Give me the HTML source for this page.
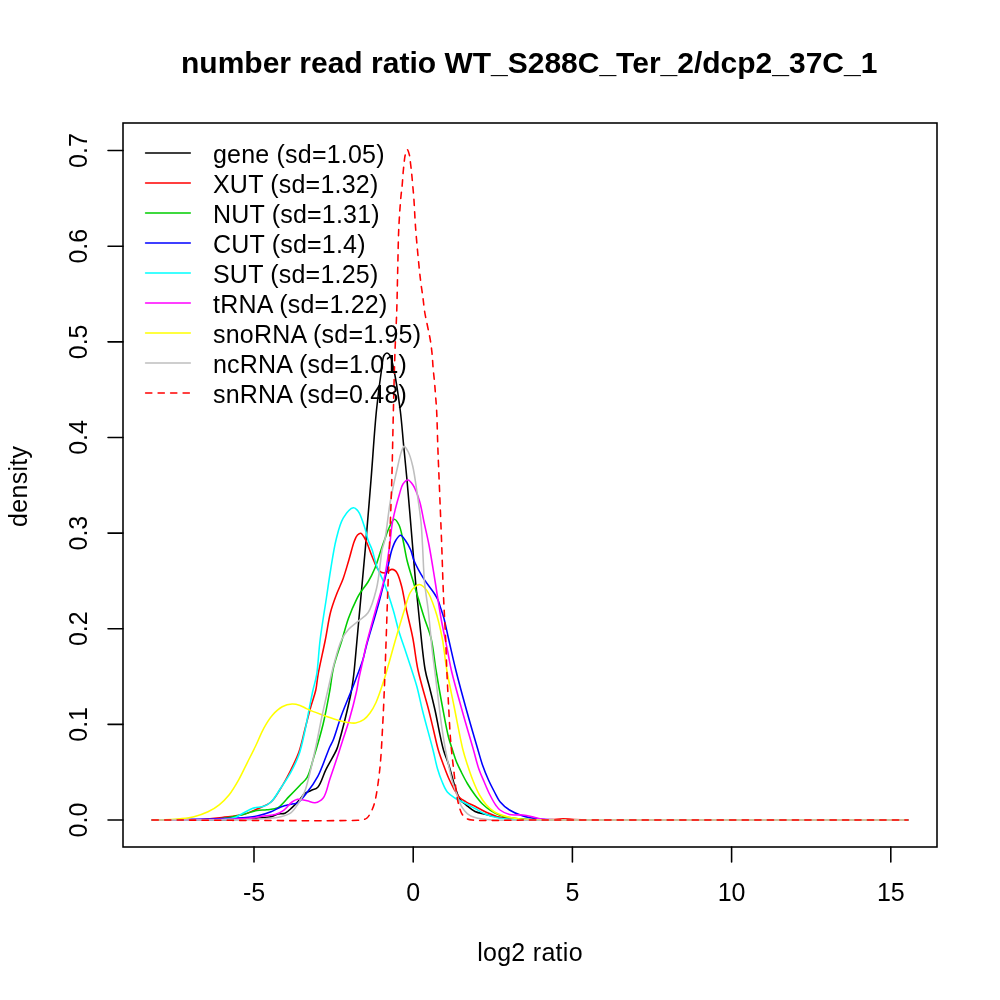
<!DOCTYPE html>
<html><head><meta charset="utf-8"><style>
html,body{margin:0;padding:0;background:#fff;width:1000px;height:1000px;overflow:hidden}
svg{display:block;will-change:transform}
text{font-family:"Liberation Sans",sans-serif;fill:#000}
</style></head><body>
<svg width="1000" height="1000" viewBox="0 0 1000 1000">
<rect x="0" y="0" width="1000" height="1000" fill="#fff"/>
<text x="529.2" y="72.5" font-size="30" font-weight="bold" text-anchor="middle">number read ratio WT_S288C_Ter_2/dcp2_37C_1</text>
<rect x="123" y="123" width="814" height="724" fill="none" stroke="#000" stroke-width="1.56"/>
<line x1="254.00" y1="847" x2="254.00" y2="862" stroke="#000" stroke-width="1.56" stroke-linecap="round"/>
<text x="254.00" y="901" font-size="25" text-anchor="middle">-5</text>
<line x1="413.20" y1="847" x2="413.20" y2="862" stroke="#000" stroke-width="1.56" stroke-linecap="round"/>
<text x="413.20" y="901" font-size="25" text-anchor="middle">0</text>
<line x1="572.40" y1="847" x2="572.40" y2="862" stroke="#000" stroke-width="1.56" stroke-linecap="round"/>
<text x="572.40" y="901" font-size="25" text-anchor="middle">5</text>
<line x1="731.60" y1="847" x2="731.60" y2="862" stroke="#000" stroke-width="1.56" stroke-linecap="round"/>
<text x="731.60" y="901" font-size="25" text-anchor="middle">10</text>
<line x1="890.80" y1="847" x2="890.80" y2="862" stroke="#000" stroke-width="1.56" stroke-linecap="round"/>
<text x="890.80" y="901" font-size="25" text-anchor="middle">15</text>
<line x1="108" y1="820.00" x2="123" y2="820.00" stroke="#000" stroke-width="1.56" stroke-linecap="round"/>
<text transform="translate(87,820.00) rotate(-90)" font-size="25" text-anchor="middle">0.0</text>
<line x1="108" y1="724.37" x2="123" y2="724.37" stroke="#000" stroke-width="1.56" stroke-linecap="round"/>
<text transform="translate(87,724.37) rotate(-90)" font-size="25" text-anchor="middle">0.1</text>
<line x1="108" y1="628.74" x2="123" y2="628.74" stroke="#000" stroke-width="1.56" stroke-linecap="round"/>
<text transform="translate(87,628.74) rotate(-90)" font-size="25" text-anchor="middle">0.2</text>
<line x1="108" y1="533.11" x2="123" y2="533.11" stroke="#000" stroke-width="1.56" stroke-linecap="round"/>
<text transform="translate(87,533.11) rotate(-90)" font-size="25" text-anchor="middle">0.3</text>
<line x1="108" y1="437.48" x2="123" y2="437.48" stroke="#000" stroke-width="1.56" stroke-linecap="round"/>
<text transform="translate(87,437.48) rotate(-90)" font-size="25" text-anchor="middle">0.4</text>
<line x1="108" y1="341.85" x2="123" y2="341.85" stroke="#000" stroke-width="1.56" stroke-linecap="round"/>
<text transform="translate(87,341.85) rotate(-90)" font-size="25" text-anchor="middle">0.5</text>
<line x1="108" y1="246.22" x2="123" y2="246.22" stroke="#000" stroke-width="1.56" stroke-linecap="round"/>
<text transform="translate(87,246.22) rotate(-90)" font-size="25" text-anchor="middle">0.6</text>
<line x1="108" y1="150.59" x2="123" y2="150.59" stroke="#000" stroke-width="1.56" stroke-linecap="round"/>
<text transform="translate(87,150.59) rotate(-90)" font-size="25" text-anchor="middle">0.7</text>
<text x="530" y="961" font-size="25" letter-spacing="0.28" text-anchor="middle">log2 ratio</text>
<text transform="translate(27,486.3) rotate(-90)" font-size="25" letter-spacing="0.3" text-anchor="middle">density</text>
<path d="M152.20,820.00 C178.13,819.93 210.78,820.43 230.00,819.80 C241.33,819.43 249.47,818.71 257.00,818.10 C262.43,817.66 267.19,817.63 271.00,816.70 C273.79,816.02 275.62,814.48 278.00,813.90 C280.29,813.34 282.79,814.10 285.00,813.20 C287.49,812.18 289.66,809.74 292.00,807.60 C294.66,805.16 297.78,801.72 300.00,799.20 C301.70,797.27 302.53,795.33 304.30,793.90 C306.16,792.40 308.75,791.62 311.00,790.50 C313.25,789.38 315.76,789.29 317.80,787.20 C321.07,783.86 322.91,775.62 325.90,769.60 C329.15,763.05 334.38,754.95 336.70,749.40 C338.22,745.76 338.47,743.98 339.60,740.00 C341.53,733.17 344.76,720.57 346.80,712.00 C348.52,704.79 350.02,698.42 351.20,692.00 C352.28,686.12 353.02,680.50 353.70,675.00 C354.34,669.85 354.69,665.36 355.20,660.00 C355.79,653.81 356.28,647.96 357.00,640.00 C358.07,628.19 359.65,610.83 361.00,596.00 C362.38,580.84 363.72,566.94 365.20,550.00 C367.02,529.11 369.12,503.34 371.00,480.00 C372.88,456.67 374.46,430.07 376.50,410.00 C378.05,394.79 380.01,380.01 381.50,370.00 C382.40,363.95 382.44,358.21 384.00,355.50 C384.81,354.10 386.00,353.00 387.00,353.00 C388.00,353.00 389.13,354.15 390.00,355.50 C391.59,357.96 392.31,362.56 393.50,368.00 C395.66,377.84 398.48,396.61 400.20,410.00 C401.76,422.17 402.47,433.33 403.60,445.00 C404.73,456.67 405.78,466.54 407.00,480.00 C408.67,498.34 410.93,526.37 412.50,545.00 C413.68,559.06 414.43,569.28 415.60,582.00 C416.85,595.56 418.24,609.69 419.80,624.00 C421.43,638.99 423.05,658.25 425.20,670.00 C426.56,677.44 428.15,681.66 429.70,688.00 C431.43,695.08 433.45,702.98 435.10,710.50 C436.75,717.98 438.10,726.03 439.60,733.00 C440.90,739.07 441.92,744.55 443.50,750.00 C445.01,755.20 447.06,759.55 448.80,765.00 C450.84,771.38 452.73,779.81 454.80,786.00 C456.49,791.04 457.72,796.22 460.00,799.50 C461.70,801.94 463.76,802.98 466.00,804.80 C468.66,806.96 471.66,809.89 475.00,811.50 C478.41,813.15 482.34,813.54 486.30,814.50 C490.64,815.55 495.31,816.75 500.00,817.50 C504.86,818.27 509.36,818.63 515.00,819.00 C522.27,819.48 529.87,819.62 540.00,819.80 C555.69,820.08 572.25,819.95 600.00,820.00 C662.85,820.10 805.20,820.00 907.80,820.00" fill="none" stroke="#000000" stroke-width="1.56" stroke-linecap="round" stroke-linejoin="round"/>
<path d="M152.20,820.00 C168.13,819.90 187.13,820.41 200.00,819.70 C208.75,819.22 214.76,818.26 222.00,817.40 C229.09,816.56 236.80,816.23 243.00,814.60 C248.23,813.23 252.38,811.08 257.00,809.00 C261.71,806.88 267.16,805.27 271.00,802.00 C274.81,798.76 277.00,794.23 280.00,789.50 C283.60,783.81 287.58,776.44 290.80,770.00 C293.83,763.94 296.60,758.47 298.90,752.00 C301.42,744.90 302.98,736.67 305.00,729.00 C307.02,721.34 309.05,712.96 311.00,706.00 C312.63,700.17 314.63,695.29 315.80,690.00 C316.92,684.96 316.93,681.02 318.00,675.00 C319.64,665.75 323.11,651.03 325.30,640.00 C327.26,630.16 328.50,620.09 330.60,612.00 C332.26,605.63 334.12,600.76 336.20,595.20 C338.31,589.56 341.12,584.16 343.20,578.40 C345.33,572.50 346.96,566.35 348.80,560.20 C350.69,553.89 352.59,545.53 354.40,541.00 C355.45,538.37 356.20,536.31 357.50,535.00 C358.48,534.01 359.87,532.99 360.90,533.20 C362.06,533.44 363.05,535.53 364.00,537.00 C365.11,538.72 365.93,540.56 367.00,543.00 C368.58,546.62 370.20,552.23 372.20,556.80 C374.26,561.50 376.44,568.32 379.20,570.80 C380.90,572.33 383.14,573.00 384.80,572.90 C386.18,572.82 387.30,571.60 388.50,571.00 C389.63,570.44 390.69,569.47 391.80,569.40 C392.86,569.34 394.09,569.85 395.00,570.50 C395.98,571.20 396.61,572.13 397.40,573.60 C398.85,576.31 400.33,581.42 401.60,586.20 C403.21,592.27 404.16,599.54 405.80,607.20 C407.79,616.50 410.78,627.60 412.80,638.00 C414.85,648.53 415.60,658.77 418.00,670.00 C420.73,682.77 425.99,699.43 428.80,710.50 C430.74,718.16 431.93,723.46 433.50,730.00 C435.09,736.62 436.50,743.85 438.30,750.00 C439.88,755.40 441.71,760.15 443.50,765.00 C445.21,769.64 446.95,774.32 448.80,778.50 C450.46,782.26 452.17,785.75 454.00,789.00 C455.68,791.98 457.17,795.12 459.30,797.30 C461.23,799.28 463.55,800.37 466.00,801.80 C468.73,803.39 471.84,804.67 475.00,806.30 C478.56,808.14 482.29,810.48 486.30,812.30 C490.59,814.24 495.25,816.35 500.00,817.50 C504.82,818.67 509.36,818.81 515.00,819.20 C522.27,819.70 533.18,819.77 540.00,819.80 C544.73,819.82 548.09,819.79 552.00,819.60 C555.75,819.42 559.33,818.70 563.00,818.70 C566.67,818.70 569.55,819.38 574.00,819.60 C580.83,819.93 586.57,819.90 600.00,820.00 C646.21,820.36 805.20,820.00 907.80,820.00" fill="none" stroke="#FF0000" stroke-width="1.56" stroke-linecap="round" stroke-linejoin="round"/>
<path d="M152.20,820.00 C171.47,819.87 195.97,820.46 210.00,819.60 C218.07,819.11 223.17,818.32 229.00,817.40 C234.04,816.61 238.36,815.76 243.00,814.60 C247.69,813.43 252.71,811.19 257.00,810.40 C260.52,809.75 263.44,810.13 266.80,809.70 C270.42,809.23 274.53,809.43 278.00,807.60 C282.09,805.44 285.52,800.15 289.20,796.40 C292.85,792.68 296.80,788.57 300.00,785.20 C302.60,782.46 304.99,781.09 307.00,777.70 C309.90,772.82 311.37,765.13 313.70,757.50 C316.70,747.71 320.49,735.01 323.20,723.70 C325.88,712.51 328.10,700.06 329.90,690.00 C331.35,681.90 331.61,675.71 333.40,668.00 C335.45,659.16 339.36,648.73 342.00,640.00 C344.31,632.34 345.89,625.35 348.40,618.40 C350.84,611.63 354.56,603.34 356.80,598.80 C358.04,596.29 358.62,595.27 360.00,593.10 C362.00,589.96 365.57,586.02 368.00,582.00 C370.60,577.70 372.91,573.04 375.00,568.00 C377.30,562.45 379.25,555.12 381.00,550.00 C382.31,546.17 383.24,543.48 384.50,540.00 C385.89,536.17 387.25,531.62 389.00,528.00 C390.57,524.76 392.49,519.33 394.30,519.20 C395.84,519.09 397.70,522.44 399.00,525.00 C400.88,528.69 401.73,534.56 403.00,540.00 C404.49,546.39 405.43,553.82 407.20,561.00 C409.10,568.73 411.65,576.27 414.20,584.80 C417.17,594.73 420.95,607.43 424.00,617.00 C426.47,624.76 429.10,630.18 431.00,638.00 C433.30,647.46 434.18,659.03 436.00,670.00 C437.93,681.66 440.13,694.41 442.30,706.00 C444.34,716.86 446.54,729.43 448.60,737.50 C449.92,742.66 451.19,745.95 452.50,750.00 C453.74,753.85 454.77,757.54 456.25,761.25 C457.76,765.04 459.64,768.77 461.50,772.50 C463.39,776.28 465.29,780.05 467.50,783.75 C469.78,787.56 472.40,791.52 475.00,795.00 C477.42,798.24 479.86,801.42 482.50,804.00 C484.89,806.34 487.22,808.19 490.00,810.00 C493.01,811.97 496.63,813.99 500.00,815.25 C503.13,816.42 505.81,816.86 509.50,817.50 C514.53,818.37 519.47,819.03 527.50,819.50 C543.56,820.44 567.46,819.89 600.00,820.00 C667.05,820.23 805.20,820.00 907.80,820.00" fill="none" stroke="#00CD00" stroke-width="1.56" stroke-linecap="round" stroke-linejoin="round"/>
<path d="M152.20,820.00 C180.13,819.37 217.38,819.24 236.00,818.10 C245.34,817.53 250.76,817.24 257.00,816.00 C262.19,814.97 266.81,813.46 271.00,811.80 C274.63,810.36 277.35,808.18 280.80,806.90 C284.34,805.59 288.92,804.79 292.00,804.10 C294.15,803.62 295.60,804.07 297.50,803.00 C300.51,801.30 303.88,796.58 307.00,792.60 C310.67,787.92 314.40,782.81 317.80,776.40 C322.16,768.17 327.05,753.04 329.90,746.70 C331.28,743.64 331.98,742.98 333.20,740.00 C335.45,734.52 338.17,724.26 341.20,716.00 C344.50,706.98 349.84,694.51 352.40,688.00 C353.77,684.53 354.27,683.27 355.50,680.00 C357.44,674.84 360.88,666.23 362.80,660.00 C364.44,654.69 364.90,651.24 366.60,645.00 C369.45,634.51 375.17,616.39 378.80,603.00 C382.10,590.83 385.24,577.75 387.60,568.00 C389.29,561.02 390.16,555.07 391.80,550.00 C393.06,546.12 394.30,542.59 396.00,540.00 C397.32,537.99 398.99,535.31 400.50,535.30 C402.02,535.29 403.62,538.02 405.10,540.00 C407.06,542.61 409.18,546.51 410.70,550.00 C412.22,553.51 412.49,556.96 414.20,561.00 C416.49,566.40 420.52,573.66 424.00,579.20 C427.16,584.23 431.49,589.12 434.00,593.00 C435.72,595.67 436.86,597.46 438.00,600.00 C439.23,602.76 440.04,606.09 441.00,609.00 C441.90,611.74 442.68,613.68 443.60,617.00 C445.07,622.32 446.62,630.27 448.40,638.00 C450.60,647.55 453.00,658.73 455.80,670.00 C458.97,682.73 462.88,697.10 466.60,710.50 C470.28,723.77 475.05,739.97 478.00,750.00 C479.82,756.19 480.77,760.04 482.50,765.00 C484.26,770.04 486.40,775.32 488.50,780.00 C490.42,784.27 492.50,788.23 494.50,792.00 C496.33,795.44 497.61,798.82 500.00,801.75 C502.54,804.86 505.86,807.68 509.50,810.00 C513.44,812.51 518.18,814.51 523.00,816.00 C528.14,817.58 533.68,818.36 539.50,819.00 C545.94,819.71 551.37,819.62 560.00,819.80 C574.75,820.11 592.54,819.95 620.00,820.00 C680.14,820.10 811.87,820.00 907.80,820.00" fill="none" stroke="#0000FF" stroke-width="1.56" stroke-linecap="round" stroke-linejoin="round"/>
<path d="M152.20,820.00 C174.80,819.87 206.18,820.42 220.00,819.60 C226.12,819.24 229.22,819.28 233.20,818.10 C236.81,817.03 239.73,814.83 243.00,813.20 C246.27,811.57 249.34,809.46 252.80,808.30 C256.33,807.11 260.80,807.42 264.00,806.20 C266.71,805.17 268.70,804.15 271.00,802.00 C274.33,798.90 277.59,792.81 280.80,788.00 C284.12,783.02 287.63,778.02 290.60,772.60 C293.68,766.98 296.59,761.31 298.90,754.80 C301.51,747.44 303.27,738.28 305.00,730.50 C306.58,723.40 307.66,716.79 309.00,710.00 C310.33,703.29 311.64,696.18 313.00,690.00 C314.18,684.63 315.57,681.09 316.60,675.00 C318.15,665.81 318.58,652.18 320.10,640.00 C321.77,626.62 324.51,610.59 326.40,598.00 C327.94,587.72 329.02,579.54 330.60,570.00 C332.26,559.97 333.84,548.41 336.20,539.20 C338.18,531.45 339.86,523.70 343.20,518.20 C345.91,513.75 350.47,508.09 353.30,507.80 C355.08,507.62 356.53,509.17 358.00,511.00 C360.72,514.39 363.47,523.68 365.20,529.00 C366.52,533.07 366.81,536.46 368.00,540.00 C369.16,543.46 370.91,546.27 372.20,550.00 C373.76,554.49 374.53,559.88 376.40,565.20 C378.57,571.39 382.14,577.80 384.80,584.80 C387.77,592.62 390.79,601.95 393.20,610.00 C395.38,617.28 396.71,624.03 398.80,631.00 C400.91,638.03 403.57,645.27 405.80,652.00 C407.86,658.23 409.81,664.08 411.70,670.00 C413.54,675.74 415.32,680.84 417.00,687.00 C418.95,694.17 420.29,701.67 422.50,710.50 C425.37,721.99 430.28,739.24 433.00,750.00 C434.87,757.39 435.84,763.14 437.50,768.75 C438.89,773.45 440.30,777.51 442.00,781.50 C443.59,785.22 445.01,789.18 447.30,792.00 C449.37,794.55 452.09,796.26 454.80,798.00 C457.58,799.78 460.65,800.87 463.80,802.50 C467.34,804.33 471.26,806.50 475.00,808.50 C478.76,810.50 482.26,812.89 486.30,814.50 C490.56,816.20 494.95,817.43 500.00,818.30 C505.99,819.33 512.18,819.40 520.00,819.70 C531.04,820.13 540.09,819.93 560.00,820.00 C618.72,820.22 791.87,820.00 907.80,820.00" fill="none" stroke="#00FFFF" stroke-width="1.56" stroke-linecap="round" stroke-linejoin="round"/>
<path d="M152.20,820.00 C184.80,819.43 232.13,819.91 250.00,818.30 C256.80,817.69 259.59,816.64 264.00,816.00 C267.94,815.43 271.81,815.63 275.20,814.60 C278.29,813.66 280.95,812.31 283.60,810.40 C286.58,808.25 289.34,803.90 292.00,802.00 C293.91,800.64 295.36,799.63 297.50,799.30 C300.18,798.88 303.97,800.10 307.00,800.70 C309.82,801.25 312.47,803.08 315.10,802.70 C317.88,802.30 320.98,800.68 323.20,798.00 C326.45,794.08 327.51,786.05 329.90,779.10 C332.83,770.61 337.05,757.91 339.40,750.70 C340.84,746.29 341.49,744.12 342.80,740.00 C344.60,734.37 347.11,727.26 349.20,720.00 C351.66,711.48 354.77,699.41 356.40,692.00 C357.46,687.19 357.69,684.50 358.60,680.00 C359.78,674.17 361.68,666.08 363.00,660.00 C364.10,654.92 364.62,651.73 366.00,646.00 C368.22,636.76 372.47,621.44 375.60,610.00 C378.46,599.54 381.69,590.45 384.00,580.00 C386.46,568.85 388.21,555.46 389.70,545.00 C390.90,536.54 391.02,530.00 392.50,522.00 C394.15,513.08 397.42,500.95 399.50,494.00 C400.76,489.79 401.30,486.43 403.00,484.00 C404.31,482.13 406.28,479.93 407.90,480.00 C409.62,480.08 411.42,482.64 413.00,485.00 C415.46,488.66 417.72,495.22 419.50,501.00 C421.48,507.45 422.46,514.84 424.00,522.00 C425.62,529.49 427.35,536.40 429.00,545.00 C431.09,555.85 433.21,569.83 435.20,582.00 C437.14,593.83 438.70,605.35 440.80,617.00 C442.90,628.69 445.88,642.25 447.80,652.00 C449.18,658.99 449.65,662.83 451.30,670.00 C453.79,680.83 458.38,697.10 462.10,710.50 C465.78,723.77 470.44,739.25 473.50,750.00 C475.60,757.40 476.82,763.15 478.75,768.75 C480.37,773.46 482.16,777.20 484.00,781.50 C485.90,785.95 487.89,790.83 490.00,795.00 C491.91,798.77 494.06,802.81 496.00,805.50 C497.37,807.40 498.21,808.66 500.00,810.00 C502.37,811.77 505.96,813.63 509.50,814.50 C513.52,815.48 518.65,814.47 523.00,815.00 C527.14,815.50 531.29,816.74 535.00,817.50 C538.21,818.16 539.69,818.85 544.00,819.30 C554.65,820.42 573.83,819.84 600.00,820.00 C661.35,820.38 805.20,820.00 907.80,820.00" fill="none" stroke="#FF00FF" stroke-width="1.56" stroke-linecap="round" stroke-linejoin="round"/>
<path d="M152.20,820.00 C158.13,819.87 164.92,819.86 170.00,819.60 C173.81,819.40 176.39,819.21 180.00,818.80 C184.28,818.31 189.39,817.84 194.00,816.70 C198.72,815.53 203.70,813.87 208.00,811.80 C212.06,809.85 215.74,807.56 219.20,804.80 C222.75,801.98 225.93,798.83 229.00,795.00 C232.52,790.61 235.78,784.93 238.80,779.60 C241.86,774.20 244.40,768.40 247.20,762.80 C250.00,757.20 252.84,751.73 255.60,746.00 C258.45,740.08 260.97,733.21 264.00,727.80 C266.63,723.10 269.22,718.79 272.40,715.20 C275.34,711.88 278.72,708.67 282.20,706.80 C285.30,705.14 288.88,704.16 292.00,704.00 C294.78,703.85 297.48,704.57 300.00,705.40 C302.47,706.22 304.26,707.67 307.00,708.90 C310.74,710.58 315.98,712.61 320.50,714.30 C324.98,715.98 329.47,717.64 334.00,719.00 C338.47,720.34 343.55,721.76 347.50,722.40 C350.52,722.89 352.95,723.42 355.60,723.00 C358.35,722.57 361.32,721.33 363.70,719.70 C366.14,718.03 368.07,715.61 370.00,713.00 C372.22,710.00 374.04,706.76 376.00,702.50 C378.75,696.51 381.21,688.71 384.00,680.00 C387.77,668.22 392.32,650.57 396.00,638.00 C399.01,627.71 401.83,618.16 404.40,610.00 C406.41,603.61 407.95,597.00 410.00,593.00 C411.26,590.53 412.37,588.93 414.00,587.50 C415.56,586.13 417.60,584.33 419.50,584.50 C421.83,584.71 424.60,587.49 426.80,590.40 C430.12,594.79 432.77,602.78 435.20,610.00 C438.03,618.40 440.30,628.30 442.20,638.00 C444.21,648.26 444.92,659.05 446.80,670.00 C448.80,681.67 451.45,693.40 454.00,706.00 C456.82,719.93 460.29,739.23 463.00,750.00 C464.60,756.36 465.88,760.02 467.50,765.00 C469.13,770.02 470.77,775.04 472.75,780.00 C474.76,785.04 477.03,790.63 479.50,795.00 C481.59,798.71 483.76,801.92 486.25,804.75 C488.55,807.36 491.24,809.82 493.75,811.50 C495.83,812.89 497.63,813.58 500.00,814.50 C502.91,815.63 506.64,816.75 510.00,817.50 C513.31,818.24 516.08,818.63 520.00,819.00 C525.51,819.52 531.54,819.62 540.00,819.80 C554.64,820.12 572.25,819.95 600.00,820.00 C662.85,820.10 805.20,820.00 907.80,820.00" fill="none" stroke="#FFFF00" stroke-width="1.56" stroke-linecap="round" stroke-linejoin="round"/>
<path d="M152.20,820.00 C184.80,819.87 232.11,820.15 250.00,819.60 C256.78,819.39 259.13,819.24 264.00,818.80 C269.35,818.31 275.99,817.92 280.80,816.70 C284.63,815.73 288.01,814.82 290.80,812.80 C293.56,810.80 295.39,807.78 297.50,804.70 C299.93,801.16 302.38,797.21 304.30,792.60 C306.59,787.12 307.90,780.74 309.70,773.70 C311.94,764.94 314.34,753.68 316.40,744.00 C318.36,734.80 319.89,725.99 321.80,717.00 C323.72,707.99 325.85,698.91 327.90,690.00 C329.92,681.25 331.69,672.45 334.00,664.00 C336.24,655.80 338.55,646.19 341.50,640.00 C343.58,635.64 345.65,632.71 348.40,629.60 C351.20,626.43 354.93,624.00 358.20,621.20 C361.47,618.40 365.26,616.80 368.00,612.80 C371.83,607.21 374.32,597.36 376.40,589.00 C378.61,580.15 379.60,568.20 380.60,561.00 C381.22,556.50 381.28,553.55 382.00,550.00 C382.70,546.56 383.86,544.47 384.80,540.00 C386.63,531.30 388.16,513.61 390.40,501.00 C392.53,488.98 395.72,475.03 397.80,466.00 C399.12,460.27 399.98,455.56 401.30,452.00 C402.17,449.65 402.98,446.50 404.10,446.40 C405.29,446.29 407.06,449.58 408.30,452.00 C410.10,455.51 411.38,460.44 412.70,466.00 C414.56,473.87 416.00,485.50 417.40,495.00 C418.75,504.15 420.14,513.35 421.00,522.00 C421.79,529.96 421.99,536.42 422.50,545.00 C423.15,555.87 423.44,570.54 424.50,582.00 C425.43,592.00 427.01,599.71 428.20,610.00 C429.66,622.58 431.14,640.93 432.40,652.00 C433.23,659.26 433.87,663.39 434.70,670.00 C435.71,678.09 436.84,687.65 438.00,697.00 C439.26,707.10 440.63,719.01 442.00,728.50 C443.14,736.36 444.45,744.20 445.50,750.00 C446.22,753.97 446.67,756.10 447.50,760.00 C448.67,765.53 450.29,773.85 452.00,780.00 C453.50,785.40 455.31,790.38 457.00,795.00 C458.48,799.06 459.60,803.04 461.50,806.30 C463.19,809.20 465.15,811.91 467.50,813.80 C469.69,815.56 471.98,816.55 475.00,817.50 C479.06,818.77 483.14,819.23 490.00,819.75 C504.74,820.88 527.79,819.94 560.00,820.00 C631.81,820.13 791.87,820.00 907.80,820.00" fill="none" stroke="#BEBEBE" stroke-width="1.56" stroke-linecap="round" stroke-linejoin="round"/>
<path d="M152.20,820.00 C220.80,820.07 338.00,821.35 358.00,820.20 C361.43,820.00 362.38,819.98 364.00,819.50 C365.21,819.14 366.08,818.77 367.00,818.00 C368.12,817.06 369.01,815.74 370.00,814.00 C371.53,811.31 373.17,807.75 374.50,803.00 C376.72,795.04 378.37,781.88 379.70,770.00 C381.24,756.19 381.87,740.00 382.70,725.00 C383.53,710.00 384.11,694.74 384.70,680.00 C385.27,665.76 385.72,652.00 386.20,638.00 C386.68,624.00 387.08,610.68 387.60,596.00 C388.17,579.82 388.85,563.03 389.50,545.00 C390.24,524.65 391.16,502.07 391.80,480.00 C392.47,457.10 392.85,432.03 393.40,410.00 C393.89,390.29 394.30,371.32 394.90,354.00 C395.42,338.99 396.23,326.00 396.70,312.00 C397.17,298.00 397.35,284.00 397.70,270.00 C398.05,256.00 398.21,240.82 398.80,228.00 C399.30,217.16 400.11,205.93 400.80,198.00 C401.26,192.77 401.81,189.25 402.20,185.00 C402.57,180.92 402.78,176.71 403.10,173.00 C403.38,169.78 403.65,167.00 404.00,164.00 C404.35,161.00 404.54,157.58 405.20,155.00 C405.73,152.94 406.60,149.60 407.30,149.60 C408.00,149.60 408.87,152.94 409.40,155.00 C410.06,157.58 410.22,160.86 410.60,164.00 C411.02,167.43 411.45,171.25 411.80,174.80 C412.14,178.25 412.38,181.33 412.70,185.00 C413.07,189.30 413.50,193.49 413.90,199.00 C414.47,206.92 414.81,217.45 415.60,228.00 C416.55,240.71 418.35,259.76 419.40,270.00 C420.01,275.92 420.40,279.34 421.00,284.00 C421.60,288.67 422.38,293.33 423.00,298.00 C423.62,302.66 423.95,307.35 424.70,312.00 C425.45,316.68 426.57,321.33 427.50,326.00 C428.43,330.67 429.53,335.32 430.30,340.00 C431.06,344.65 431.63,349.33 432.10,354.00 C432.57,358.66 432.70,363.34 433.10,368.00 C433.50,372.67 434.08,377.33 434.50,382.00 C434.92,386.66 435.25,391.33 435.60,396.00 C435.95,400.67 436.29,404.08 436.60,410.00 C437.14,420.24 437.48,438.00 438.00,452.00 C438.52,466.00 439.12,479.32 439.70,494.00 C440.34,510.18 441.07,528.00 441.70,545.00 C442.33,562.00 442.81,579.83 443.50,596.00 C444.13,610.68 445.03,624.95 445.60,638.00 C446.10,649.39 446.32,659.02 446.80,670.00 C447.31,681.65 447.98,694.40 448.60,706.00 C449.18,716.85 449.73,728.54 450.40,737.50 C450.90,744.19 451.40,749.17 452.00,755.00 C452.60,760.84 453.31,766.56 454.00,772.50 C454.72,778.66 455.41,785.66 456.25,791.30 C456.94,795.96 457.43,800.01 458.50,804.00 C459.49,807.71 460.51,811.89 462.30,814.50 C463.71,816.55 465.57,818.07 467.50,819.00 C469.32,819.87 470.40,819.82 473.50,820.10 C483.72,821.02 508.89,820.02 540.00,820.00 C613.16,819.94 785.20,820.00 907.80,820.00" fill="none" stroke="#FF0000" stroke-width="1.56" stroke-linecap="round" stroke-linejoin="round" stroke-dasharray="6.25 6.25"/>
<line x1="145.6" y1="153.0" x2="190.3" y2="153.0" stroke="#000000" stroke-width="1.56" stroke-linecap="round"/>
<text x="213" y="162.6" font-size="25" letter-spacing="0.2">gene (sd=1.05)</text>
<line x1="145.6" y1="183.0" x2="190.3" y2="183.0" stroke="#FF0000" stroke-width="1.56" stroke-linecap="round"/>
<text x="213" y="192.6" font-size="25" letter-spacing="0.2">XUT (sd=1.32)</text>
<line x1="145.6" y1="213.0" x2="190.3" y2="213.0" stroke="#00CD00" stroke-width="1.56" stroke-linecap="round"/>
<text x="213" y="222.6" font-size="25" letter-spacing="0.2">NUT (sd=1.31)</text>
<line x1="145.6" y1="243.0" x2="190.3" y2="243.0" stroke="#0000FF" stroke-width="1.56" stroke-linecap="round"/>
<text x="213" y="252.6" font-size="25" letter-spacing="0.2">CUT (sd=1.4)</text>
<line x1="145.6" y1="273.0" x2="190.3" y2="273.0" stroke="#00FFFF" stroke-width="1.56" stroke-linecap="round"/>
<text x="213" y="282.6" font-size="25" letter-spacing="0.2">SUT (sd=1.25)</text>
<line x1="145.6" y1="303.0" x2="190.3" y2="303.0" stroke="#FF00FF" stroke-width="1.56" stroke-linecap="round"/>
<text x="213" y="312.6" font-size="25" letter-spacing="0.2">tRNA (sd=1.22)</text>
<line x1="145.6" y1="333.0" x2="190.3" y2="333.0" stroke="#FFFF00" stroke-width="1.56" stroke-linecap="round"/>
<text x="213" y="342.6" font-size="25" letter-spacing="0.2">snoRNA (sd=1.95)</text>
<line x1="145.6" y1="363.0" x2="190.3" y2="363.0" stroke="#BEBEBE" stroke-width="1.56" stroke-linecap="round"/>
<text x="213" y="372.6" font-size="25" letter-spacing="0.2">ncRNA (sd=1.01)</text>
<line x1="145.6" y1="393.0" x2="190.3" y2="393.0" stroke="#FF0000" stroke-width="1.56" stroke-linecap="round" stroke-dasharray="6.25 6.25"/>
<text x="213" y="402.6" font-size="25" letter-spacing="0.2">snRNA (sd=0.48)</text>
</svg></body></html>
